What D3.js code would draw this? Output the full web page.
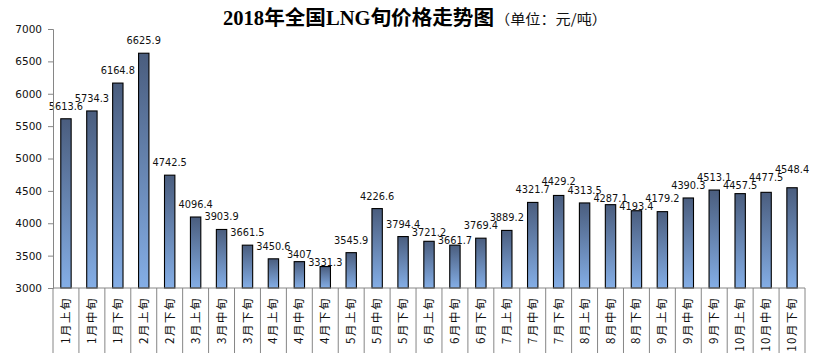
<!DOCTYPE html>
<html>
<head>
<meta charset="utf-8">
<script src="https://cdn.jsdelivr.net/npm/d3@7"></script>
<style>
  html, body { margin: 0; padding: 0; background: #fff; }
  svg { display: block; }
</style>
</head>
<body>
<svg id="chart" width="820" height="354"></svg>
<script>
// ---- data ----
const categories = ["1月上旬","1月中旬","1月下旬","2月上旬","2月下旬","3月上旬","3月中旬","3月下旬",
  "4月上旬","4月中旬","4月下旬","5月上旬","5月中旬","5月下旬","6月上旬","6月中旬","6月下旬",
  "7月上旬","7月中旬","7月下旬","8月上旬","8月中旬","8月下旬","9月上旬","9月中旬","9月下旬",
  "10月上旬","10月中旬","10月下旬"];
const prices = [5613.6,5734.3,6164.8,6625.9,4742.5,4096.4,3903.9,3661.5,3450.6,3407,3331.3,3545.9,
  4226.6,3794.4,3721.2,3661.7,3769.4,3889.2,4321.7,4429.2,4313.5,4287.1,4193.4,4179.2,4390.3,
  4513.1,4457.5,4477.5,4548.4];
const yTicks = [3000,3500,4000,4500,5000,5500,6000,6500,7000];
const titleText = "2018年全国LNG旬价格走势图";
const unitText = "（单位：元/吨）";

// ---- layout ----
const svg = d3.select("#chart");
const plotL = 53, plotR = 805, plotT = 29, plotB = 288;

const defs = svg.append("defs");
const grad = defs.append("linearGradient").attr("id","barGrad")
  .attr("x1",0).attr("y1",0).attr("x2",0).attr("y2",1);
grad.append("stop").attr("offset","0%").attr("stop-color","#4a5d7e");
grad.append("stop").attr("offset","100%").attr("stop-color","#84aee6");

// ---- scales ----
const x = d3.scaleBand().domain(categories).range([plotL, plotR]).paddingInner(0.6).paddingOuter(0.3);
const xb = d3.scaleBand().domain(categories).range([plotL, plotR]);
const y = d3.scaleLinear().domain([3000, 7000]).range([plotB, plotT]);

// ---- bars ----
svg.append("g").selectAll("rect").data(prices).join("rect")
  .attr("x", (d,i) => x(categories[i]))
  .attr("y", d => y(d))
  .attr("width", x.bandwidth())
  .attr("height", d => y(3000) - y(d))
  .attr("fill", "url(#barGrad)")
  .attr("stroke", "#000").attr("stroke-width", 1.1);

// ---- value labels (simple neighbour collision avoidance, like the spreadsheet's) ----
const gap = 9, lineH = 8;
const labelY = [];
prices.forEach((d, i) => {
  const barTop = y(d);
  let by = barTop - gap;
  if (i > 0) {
    const prev = labelY[i-1];
    if (Math.abs(by - prev) < lineH) {
      const down = prev + lineH;
      if (down <= barTop) by = down;
      else by = Math.min(by, prev - lineH);
    }
  }
  labelY.push(by);
});
svg.append("g").selectAll("text").data(prices).join("text")
  .attr("x", (d,i) => x(categories[i]) + x.bandwidth()/2)
  .attr("y", (d,i) => labelY[i])
  .attr("text-anchor","middle")
  .attr("font-family","DejaVu Sans, Verdana, sans-serif")
  .attr("font-size", 9.8)
  .attr("fill","#111")
  .text(d => d3.format("")(d));

// ---- y axis ----
const yAxis = svg.append("g").attr("transform", `translate(${plotL},0)`)
  .call(d3.axisLeft(y).tickValues(yTicks).tickSize(5).tickPadding(6).tickFormat(d3.format("d")));
yAxis.select(".domain").attr("stroke","#868686");
yAxis.selectAll(".tick line").attr("stroke","#868686");
yAxis.selectAll(".tick text").attr("font-family","DejaVu Sans, Verdana, sans-serif")
  .attr("font-size",10.5).attr("fill","#111");

// ---- x axis ----
const xAxis = svg.append("g").attr("transform", `translate(0,${plotB})`);
xAxis.append("line").attr("x1",plotL).attr("x2",plotR).attr("y1",0).attr("y2",0)
  .attr("stroke","#868686");
const seps = categories.map(c => xb(c)).concat([plotR]);
xAxis.selectAll("line.sep").data(seps).join("line").attr("class","sep")
  .attr("x1", d => d).attr("x2", d => d).attr("y1", 0).attr("y2", 65)
  .attr("stroke","#868686");
xAxis.selectAll("text").data(categories).join("text")
  .attr("transform", d => `translate(${x(d) + x.bandwidth()/2},9) rotate(-90)`)
  .attr("text-anchor","end")
  .attr("dy","0.35em")
  .attr("font-family","Noto Sans CJK SC, sans-serif")
  .attr("font-size",11.5)
  .attr("letter-spacing",1.5)
  .attr("fill","#111")
  .text(d => d);

// ---- title ----
svg.append("text").attr("x",223).attr("y",25)
  .attr("font-family","Liberation Serif, Noto Sans CJK SC, serif")
  .attr("font-weight","bold").attr("font-size",20)
  .attr("textLength",271).attr("lengthAdjust","spacingAndGlyphs")
  .attr("fill","#000")
  .text(titleText);
svg.append("text").attr("x",495).attr("y",24)
  .attr("font-family","Noto Sans CJK SC, sans-serif")
  .attr("font-size",14)
  .attr("textLength",112).attr("lengthAdjust","spacingAndGlyphs")
  .attr("fill","#111")
  .text(unitText);
</script>
</body>
</html>
